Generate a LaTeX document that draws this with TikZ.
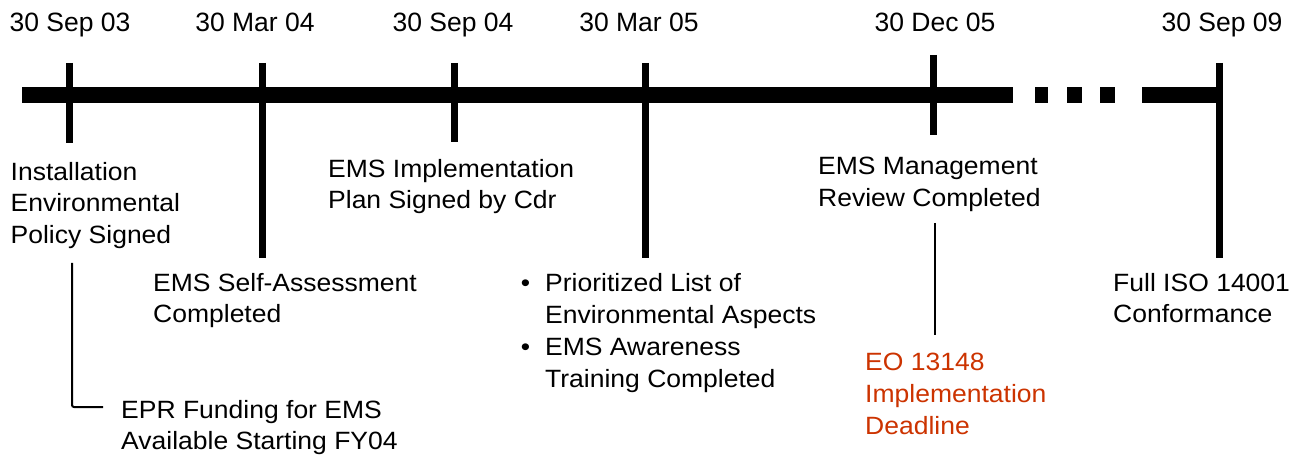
\documentclass[tikz,border=0pt]{standalone}
\usepackage{fontspec}
\setmainfont{Liberation Sans}
\newfontfamily\milestonefont{Liberation Sans}[FakeStretch=1.06]
\definecolor{deadline}{RGB}{204,51,0}
\begin{document}
\begin{tikzpicture}[x=1pt,y=-1pt,
  bar/.style={line width=16pt,line cap=butt},
  tickmark/.style={line width=7pt,line cap=butt},
  leader/.style={line width=2pt},
  date/.style={anchor=base,inner sep=0pt,font=\fontsize{26.5}{31}\selectfont},
  milestone/.style={anchor=north west,inner sep=0pt,align=left,font=\milestonefont\fontsize{25}{31.5}\selectfont},
  wide/.style={font=\milestonefont\fontsize{25}{32}\selectfont},
]
\useasboundingbox (0,0) rectangle (1302,457);

% time axis
\coordinate (axisL) at (22,95);
\coordinate (axisA) at (1013,95);
\coordinate (axisB) at (1142,95);
\coordinate (axisR) at (1219,95);
\draw[bar] (axisL) -- (axisA);
\draw[bar] (1035,95) -- (1048,95);
\draw[bar] (1067,95) -- (1082,95);
\draw[bar] (1100,95) -- (1115,95);
\draw[bar] (axisB) -- (axisR);

% tick marks
\coordinate (t1a) at (69,63);    \coordinate (t1b) at (69,143);
\coordinate (t2a) at (262,63);   \coordinate (t2b) at (262,258);
\coordinate (t3a) at (454,63);   \coordinate (t3b) at (454,142);
\coordinate (t4a) at (645,63);   \coordinate (t4b) at (645,258);
\coordinate (t5a) at (933.5,55); \coordinate (t5b) at (933.5,135);
\coordinate (t6a) at (1219,63);  \coordinate (t6b) at (1219,258);
\foreach \i in {1,...,6} \draw[tickmark] (t\i a) -- (t\i b);

% dates
\node[date] (d1) at (70,32)   {30 Sep 03};
\node[date] (d2) at (255,32)  {30 Mar 04};
\node[date] (d3) at (453,32)  {30 Sep 04};
\node[date] (d4) at (639,32)  {30 Mar 05};
\node[date] (d5) at (935,32)  {30 Dec 05};
\node[date] (d6) at (1222,32) {30 Sep 09};

% milestones
\node[milestone] (policy) at (10.5,162) {Installation\\Environmental\\Policy Signed};
\node[milestone] (selfassess) at (153,273) {EMS Self-Assessment\\Completed};
\node[milestone] (plan) at (328,159) {EMS Implementation\\Plan Signed by Cdr};
\node[milestone,wide] (aspects) at (545,273)
  {\llap{\textbullet\hspace{15pt}}Prioritized List of\\Environmental Aspects\\
   \llap{\textbullet\hspace{15pt}}EMS Awareness\\Training Completed};
\node[milestone,wide] (review) at (818,157) {EMS Management\\Review Completed};
\node[milestone,wide,text=deadline] (eo) at (865,353) {EO 13148\\Implementation\\Deadline};
\node[milestone] (iso) at (1113,273) {Full ISO 14001\\Conformance};
\node[milestone,font=\milestonefont\fontsize{25}{31}\selectfont] (epr) at (121,400) {EPR Funding for EMS\\Available Starting FY04};

% leader lines
\coordinate (eprTop) at (72,263);
\coordinate (eprEnd) at (103,407);
\draw[leader,rounded corners=2pt] (eprTop) |- (eprEnd);
\coordinate (eoTop) at (935,223);
\coordinate (eoBot) at (935,335);
\draw[leader] (eoTop) -- (eoBot);
\end{tikzpicture}
\end{document}
